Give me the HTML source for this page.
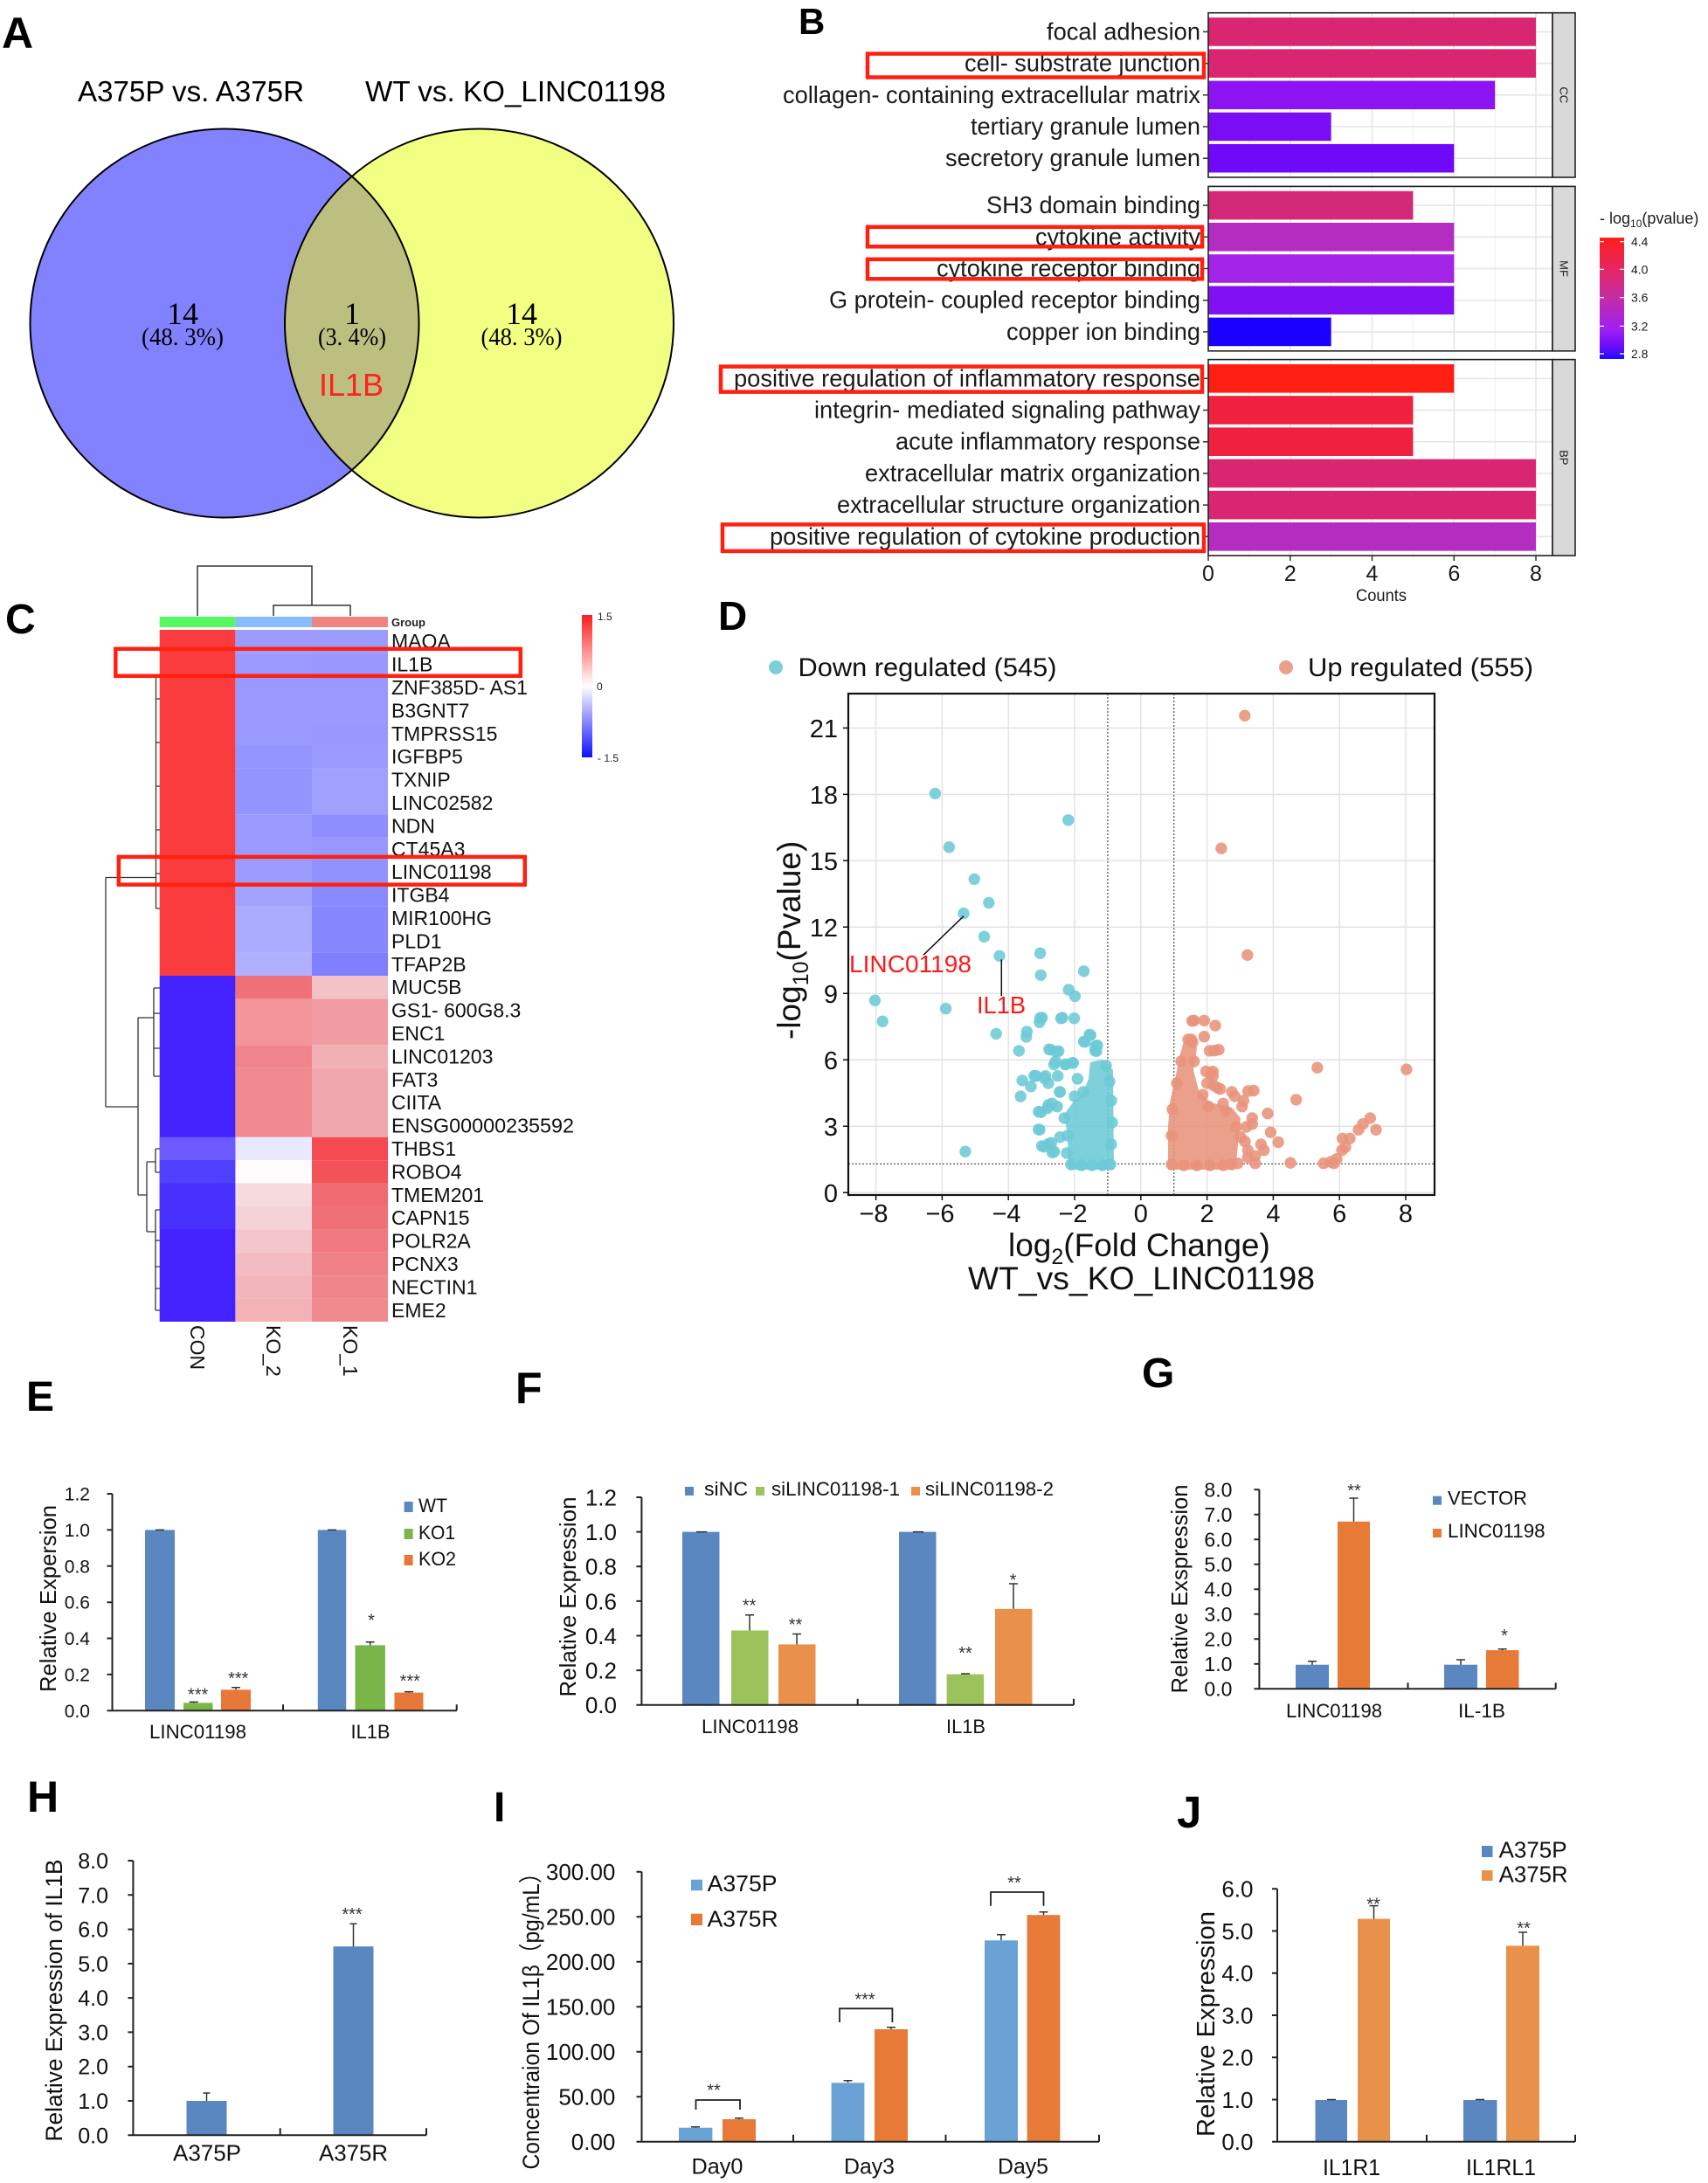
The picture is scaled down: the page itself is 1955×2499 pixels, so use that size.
<!DOCTYPE html>
<html><head><meta charset="utf-8"><style>
html,body{margin:0;padding:0;background:#fff}
svg{display:block}
text{font-family:"Liberation Sans",Arial,sans-serif}
.ser{font-family:"Liberation Serif","Times New Roman",serif}
.lab{font-weight:bold;fill:#000}
</style></head><body>
<svg xmlns="http://www.w3.org/2000/svg" width="1955" height="2499" viewBox="0 0 1955 2499">
<defs>
<clipPath id="lc"><circle cx="257" cy="370" r="222.5"/></clipPath>
<linearGradient id="gb" x1="0" y1="0" x2="0" y2="1">
<stop offset="0" stop-color="#FF1E18"/><stop offset="0.25" stop-color="#E52660"/><stop offset="0.5" stop-color="#C42CA8"/><stop offset="0.75" stop-color="#A020F0"/><stop offset="0.9" stop-color="#6A0CF8"/><stop offset="1" stop-color="#1E0AFF"/>
</linearGradient>
<linearGradient id="gc" x1="0" y1="0" x2="0" y2="1">
<stop offset="0" stop-color="#FF1E1E"/><stop offset="0.5" stop-color="#FFFFFF"/><stop offset="1" stop-color="#1010FF"/>
</linearGradient>
</defs>
<rect width="1955" height="2499" fill="#fff"/>

<!-- ============ A ============ -->
<text class="lab" x="2" y="55" font-size="50">A</text>
<text x="89" y="116" font-size="33" textLength="259" lengthAdjust="spacingAndGlyphs">A375P vs. A375R</text>
<text x="418" y="116" font-size="33" textLength="344" lengthAdjust="spacingAndGlyphs">WT vs. KO_LINC01198</text>
<circle cx="257" cy="370" r="222.5" fill="#8282FF"/>
<circle cx="548.5" cy="370" r="222.5" fill="#F2FF82"/>
<circle cx="548.5" cy="370" r="222.5" fill="#BDBF80" clip-path="url(#lc)"/>
<circle cx="257" cy="370" r="222.5" fill="none" stroke="#000" stroke-width="2"/>
<circle cx="548.5" cy="370" r="222.5" fill="none" stroke="#000" stroke-width="2"/>
<text class="ser" x="209" y="371" font-size="36" text-anchor="middle">14</text>
<text class="ser" x="209" y="395" font-size="28" text-anchor="middle" textLength="94" lengthAdjust="spacingAndGlyphs">(48. 3%)</text>
<text class="ser" x="403" y="371" font-size="36" text-anchor="middle">1</text>
<text class="ser" x="403" y="395" font-size="28" text-anchor="middle" textLength="78" lengthAdjust="spacingAndGlyphs">(3. 4%)</text>
<text class="ser" x="597" y="371" font-size="36" text-anchor="middle">14</text>
<text class="ser" x="597" y="395" font-size="28" text-anchor="middle" textLength="93" lengthAdjust="spacingAndGlyphs">(48. 3%)</text>
<text x="402" y="453" font-size="36" text-anchor="middle" fill="#FF2020" textLength="74" lengthAdjust="spacingAndGlyphs">IL1B</text>

<!-- ============ B ============ -->
<text class="lab" x="914" y="39" font-size="42">B</text>
<!-- panels -->
<g>
<rect x="1383" y="14.7" width="394" height="188.3" fill="#fff"/>
<rect x="1383" y="213.4" width="394" height="188.4" fill="#fff"/>
<rect x="1383" y="411.6" width="394" height="224.4" fill="#fff"/>
<g stroke="#EBEBEB" stroke-width="0.9">
<path d="M1429.9 14.7V203M1523.6 14.7V203M1617.4 14.7V203M1711.2 14.7V203M1429.9 213.4V401.8M1523.6 213.4V401.8M1617.4 213.4V401.8M1711.2 213.4V401.8M1429.9 411.6V636M1523.6 411.6V636M1617.4 411.6V636M1711.2 411.6V636"/>
</g>
<g stroke="#E6E6E6" stroke-width="1.6">
<path d="M1476.8 14.7V203M1570.5 14.7V203M1664.3 14.7V203M1758 14.7V203M1476.8 213.4V401.8M1570.5 213.4V401.8M1664.3 213.4V401.8M1758 213.4V401.8M1476.8 411.6V636M1570.5 411.6V636M1664.3 411.6V636M1758 411.6V636"/>
<path d="M1383 36.4H1777M1383 72.6H1777M1383 108.8H1777M1383 145H1777M1383 181.2H1777M1383 235.1H1777M1383 271.3H1777M1383 307.5H1777M1383 343.7H1777M1383 379.9H1777M1383 433.3H1777M1383 469.5H1777M1383 505.7H1777M1383 541.9H1777M1383 578.1H1777M1383 614.3H1777"/>
</g>
<!-- bars -->
<rect x="1383" y="20.1" width="375" height="32.6" fill="#DA2670"/>
<rect x="1383" y="56.3" width="375" height="32.6" fill="#DA2670"/>
<rect x="1383" y="92.5" width="328.2" height="32.6" fill="#8C14F2"/>
<rect x="1383" y="128.7" width="140.6" height="32.6" fill="#7A0CF6"/>
<rect x="1383" y="164.9" width="281.3" height="32.6" fill="#7008FA"/>
<rect x="1383" y="218.8" width="234.4" height="32.6" fill="#D42878"/>
<rect x="1383" y="255" width="281.3" height="32.6" fill="#B52CC0"/>
<rect x="1383" y="291.2" width="281.3" height="32.6" fill="#A324E8"/>
<rect x="1383" y="327.4" width="281.3" height="32.6" fill="#8210F5"/>
<rect x="1383" y="363.6" width="140.6" height="32.6" fill="#1C00FF"/>
<rect x="1383" y="417" width="281.3" height="32.6" fill="#FF1E12"/>
<rect x="1383" y="453.2" width="234.4" height="32.6" fill="#F0213E"/>
<rect x="1383" y="489.4" width="234.4" height="32.6" fill="#F0213E"/>
<rect x="1383" y="525.6" width="375" height="32.6" fill="#DA2670"/>
<rect x="1383" y="561.8" width="375" height="32.6" fill="#DA2670"/>
<rect x="1383" y="598" width="375" height="32.6" fill="#B52CC0"/>
<g fill="none" stroke="#222" stroke-width="1.6">
<rect x="1383" y="14.7" width="394" height="188.3"/>
<rect x="1383" y="213.4" width="394" height="188.4"/>
<rect x="1383" y="411.6" width="394" height="224.4"/>
</g>
<!-- strips -->
<g fill="#D9D9D9" stroke="#222" stroke-width="1.6">
<rect x="1777" y="14.7" width="26" height="188.3"/>
<rect x="1777" y="213.4" width="26" height="188.4"/>
<rect x="1777" y="411.6" width="26" height="224.4"/>
</g>
<g font-size="13" fill="#1A1A1A">
<text transform="translate(1790,108.8) rotate(90)" text-anchor="middle" dominant-baseline="central">CC</text>
<text transform="translate(1790,307.5) rotate(90)" text-anchor="middle" dominant-baseline="central">MF</text>
<text transform="translate(1790,523.8) rotate(90)" text-anchor="middle" dominant-baseline="central">BP</text>
</g>
<!-- y ticks -->
<path stroke="#333" stroke-width="1.5" d="M1377 36.4H1383M1377 72.6H1383M1377 108.8H1383M1377 145H1383M1377 181.2H1383M1377 235.1H1383M1377 271.3H1383M1377 307.5H1383M1377 343.7H1383M1377 379.9H1383M1377 433.3H1383M1377 469.5H1383M1377 505.7H1383M1377 541.9H1383M1377 578.1H1383M1377 614.3H1383"/>
<!-- labels -->
<g font-size="28" fill="#1A1A1A" text-anchor="end">
<text x="1374" y="45.4" textLength="176" lengthAdjust="spacingAndGlyphs">focal adhesion</text>
<text x="1374" y="81.6" textLength="270" lengthAdjust="spacingAndGlyphs">cell- substrate junction</text>
<text x="1374" y="117.8" textLength="478" lengthAdjust="spacingAndGlyphs">collagen- containing extracellular matrix</text>
<text x="1374" y="154" textLength="263" lengthAdjust="spacingAndGlyphs">tertiary granule lumen</text>
<text x="1374" y="190.2" textLength="292" lengthAdjust="spacingAndGlyphs">secretory granule lumen</text>
<text x="1374" y="244.1" textLength="245" lengthAdjust="spacingAndGlyphs">SH3 domain binding</text>
<text x="1374" y="280.3" textLength="189" lengthAdjust="spacingAndGlyphs">cytokine activity</text>
<text x="1374" y="316.5" textLength="302" lengthAdjust="spacingAndGlyphs">cytokine receptor binding</text>
<text x="1374" y="352.7" textLength="425" lengthAdjust="spacingAndGlyphs">G protein- coupled receptor binding</text>
<text x="1374" y="388.9" textLength="222" lengthAdjust="spacingAndGlyphs">copper ion binding</text>
<text x="1374" y="442.3" textLength="534" lengthAdjust="spacingAndGlyphs">positive regulation of inflammatory response</text>
<text x="1374" y="478.5" textLength="442" lengthAdjust="spacingAndGlyphs">integrin- mediated signaling pathway</text>
<text x="1374" y="514.7" textLength="349" lengthAdjust="spacingAndGlyphs">acute inflammatory response</text>
<text x="1374" y="550.9" textLength="384" lengthAdjust="spacingAndGlyphs">extracellular matrix organization</text>
<text x="1374" y="587.1" textLength="416" lengthAdjust="spacingAndGlyphs">extracellular structure organization</text>
<text x="1374" y="623.3" textLength="493" lengthAdjust="spacingAndGlyphs">positive regulation of cytokine production</text>
</g>
<!-- red boxes -->
<g fill="none" stroke="#FF2010" stroke-width="4.5">
<rect x="993" y="61.5" width="385" height="27"/>
<rect x="993" y="259.8" width="383" height="22.5"/>
<rect x="993" y="296.8" width="383" height="22.5"/>
<rect x="825" y="419.6" width="551" height="29"/>
<rect x="827" y="600.4" width="551" height="30.5"/>
</g>
<!-- x axis -->
<path stroke="#333" stroke-width="1.5" d="M1383 636V642M1476.8 636V642M1570.5 636V642M1664.3 636V642M1758 636V642"/>
<g font-size="25" fill="#1A1A1A" text-anchor="middle">
<text x="1383" y="665">0</text><text x="1476.8" y="665">2</text><text x="1570.5" y="665">4</text><text x="1664.3" y="665">6</text><text x="1758" y="665">8</text>
</g>
<text x="1552" y="688" font-size="19" fill="#1A1A1A" textLength="58" lengthAdjust="spacingAndGlyphs">Counts</text>
<!-- colorbar -->
<text x="1831" y="256" font-size="18" fill="#1A1A1A">- log<tspan font-size="12" dy="4">10</tspan><tspan dy="-4">(pvalue)</tspan></text>
<rect x="1831" y="272" width="28" height="139" fill="url(#gb)"/>
<path stroke="#fff" stroke-width="1.2" d="M1831 276.7h5M1854 276.7h5M1831 308.3h5M1854 308.3h5M1831 340.7h5M1854 340.7h5M1831 373.3h5M1854 373.3h5M1831 405h5M1854 405h5"/>
<g font-size="14" fill="#1A1A1A">
<text x="1867" y="281.7">4.4</text><text x="1867" y="313.3">4.0</text><text x="1867" y="345.7">3.6</text><text x="1867" y="378.3">3.2</text><text x="1867" y="410">2.8</text>
</g>

<!-- ============ C ============ -->
<text class="lab" x="6" y="725" font-size="48">C</text>
<!-- column dendrogram -->
<path fill="none" stroke="#333" stroke-width="1.5" d="M226 705V648H357V693M313 705V693H401V705"/>
<!-- group bar -->
<rect x="182.7" y="706" width="86.7" height="12" fill="#55F860"/>
<rect x="269.4" y="706" width="87.6" height="12" fill="#88BBFF"/>
<rect x="357" y="706" width="87" height="12" fill="#F08282"/>
<text x="448" y="717" font-size="13" font-weight="bold" fill="#222">Group</text>
<!-- heatmap -->
<g>
<rect x="182.7" y="721" width="86.7" height="396" fill="#FA3C3E"/>
<rect x="182.7" y="1117" width="86.7" height="396" fill="#4422FF"/>
<rect x="182.7" y="1301.8" width="86.7" height="26.4" fill="#6A5AFF"/>
<rect x="182.7" y="1328.2" width="86.7" height="26.4" fill="#5040FF"/>
<rect x="182.7" y="1354.6" width="86.7" height="52.8" fill="#4830FF"/>
</g>
<g id="k2">
<rect x="269.4" y="721" width="87.6" height="26.4" fill="#9C9CFF"/>
<rect x="269.4" y="747.4" width="87.6" height="26.4" fill="#9A9AFF"/>
<rect x="269.4" y="773.8" width="87.6" height="79.2" fill="#9999FF"/>
<rect x="269.4" y="853" width="87.6" height="26.4" fill="#9595FF"/>
<rect x="269.4" y="879.4" width="87.6" height="52.8" fill="#9494FF"/>
<rect x="269.4" y="932.2" width="87.6" height="52.8" fill="#9A9AFF"/>
<rect x="269.4" y="985" width="87.6" height="26.4" fill="#9C9CFF"/>
<rect x="269.4" y="1011.4" width="87.6" height="26.4" fill="#A2A2FF"/>
<rect x="269.4" y="1037.8" width="87.6" height="52.8" fill="#ACACFF"/>
<rect x="269.4" y="1090.6" width="87.6" height="26.4" fill="#B0B0FF"/>
<rect x="269.4" y="1117" width="87.6" height="26.4" fill="#F0707A"/>
<rect x="269.4" y="1143.4" width="87.6" height="52.8" fill="#F29498"/>
<rect x="269.4" y="1196.2" width="87.6" height="26.4" fill="#F0848C"/>
<rect x="269.4" y="1222.6" width="87.6" height="79.2" fill="#F08A90"/>
<rect x="269.4" y="1301.8" width="87.6" height="26.4" fill="#E8E8FF"/>
<rect x="269.4" y="1328.2" width="87.6" height="26.4" fill="#FFFAFC"/>
<rect x="269.4" y="1354.6" width="87.6" height="26.4" fill="#F6DADE"/>
<rect x="269.4" y="1381" width="87.6" height="26.4" fill="#F4D2D6"/>
<rect x="269.4" y="1407.4" width="87.6" height="26.4" fill="#F2C6CA"/>
<rect x="269.4" y="1433.8" width="87.6" height="26.4" fill="#F2BCC2"/>
<rect x="269.4" y="1460.2" width="87.6" height="26.4" fill="#F2B6BA"/>
<rect x="269.4" y="1486.6" width="87.6" height="26.4" fill="#F2B2B6"/>
</g>
<g id="k1">
<rect x="357" y="721" width="87" height="26.4" fill="#9C9CFF"/>
<rect x="357" y="747.4" width="87" height="26.4" fill="#9898FF"/>
<rect x="357" y="773.8" width="87" height="52.8" fill="#9999FF"/>
<rect x="357" y="826.6" width="87" height="26.4" fill="#9898FF"/>
<rect x="357" y="853" width="87" height="26.4" fill="#9A9AFF"/>
<rect x="357" y="879.4" width="87" height="52.8" fill="#A0A0FF"/>
<rect x="357" y="932.2" width="87" height="26.4" fill="#8E8EFF"/>
<rect x="357" y="958.6" width="87" height="26.4" fill="#9898FF"/>
<rect x="357" y="985" width="87" height="26.4" fill="#9292FF"/>
<rect x="357" y="1011.4" width="87" height="26.4" fill="#8A8AFF"/>
<rect x="357" y="1037.8" width="87" height="52.8" fill="#8686FF"/>
<rect x="357" y="1090.6" width="87" height="26.4" fill="#8080FF"/>
<rect x="357" y="1117" width="87" height="26.4" fill="#F2C2C6"/>
<rect x="357" y="1143.4" width="87" height="52.8" fill="#F09CA2"/>
<rect x="357" y="1196.2" width="87" height="26.4" fill="#F0B0B4"/>
<rect x="357" y="1222.6" width="87" height="79.2" fill="#F0A8AE"/>
<rect x="357" y="1301.8" width="87" height="26.4" fill="#F44A50"/>
<rect x="357" y="1328.2" width="87" height="26.4" fill="#F25258"/>
<rect x="357" y="1354.6" width="87" height="26.4" fill="#F06A72"/>
<rect x="357" y="1381" width="87" height="26.4" fill="#F07078"/>
<rect x="357" y="1407.4" width="87" height="26.4" fill="#F07A80"/>
<rect x="357" y="1433.8" width="87" height="26.4" fill="#F08088"/>
<rect x="357" y="1460.2" width="87" height="26.4" fill="#F0868C"/>
<rect x="357" y="1486.6" width="87" height="26.4" fill="#F08A90"/>
</g>
<!-- row dendrogram -->
<path fill="none" stroke="#333" stroke-width="1.3" d="M121 1004.5V1267M121 1004.5H178.5M178.5 775V1040M178.5 775H183M178.5 800H183M178.5 850H183M178.5 900H183M178.5 950H183M178.5 1000H183M178.5 1040H183M121 1267H158M158 1165V1368M158 1165H176M176 1131V1232M176 1131H183M176 1160H183M176 1200H183M176 1232H183M158 1368H168M168 1330V1410M168 1330H178M178 1315V1342M178 1315H183M178 1342H183M168 1410H178M178 1385V1500M178 1385H183M178 1420H183M178 1450H183M178 1475H183M178 1500H183"/>
<!-- row labels -->
<g font-size="23" fill="#111">
<text x="448" y="742.2">MAOA</text>
<text x="448" y="768.6">IL1B</text>
<text x="448" y="795">ZNF385D- AS1</text>
<text x="448" y="821.4">B3GNT7</text>
<text x="448" y="847.8">TMPRSS15</text>
<text x="448" y="874.2">IGFBP5</text>
<text x="448" y="900.6">TXNIP</text>
<text x="448" y="927">LINC02582</text>
<text x="448" y="953.4">NDN</text>
<text x="448" y="979.8">CT45A3</text>
<text x="448" y="1006.2">LINC01198</text>
<text x="448" y="1032.6">ITGB4</text>
<text x="448" y="1059">MIR100HG</text>
<text x="448" y="1085.4">PLD1</text>
<text x="448" y="1111.8">TFAP2B</text>
<text x="448" y="1138.2">MUC5B</text>
<text x="448" y="1164.6">GS1- 600G8.3</text>
<text x="448" y="1191">ENC1</text>
<text x="448" y="1217.4">LINC01203</text>
<text x="448" y="1243.8">FAT3</text>
<text x="448" y="1270.2">CIITA</text>
<text x="448" y="1296.6" textLength="209" lengthAdjust="spacingAndGlyphs">ENSG00000235592</text>
<text x="448" y="1323">THBS1</text>
<text x="448" y="1349.4">ROBO4</text>
<text x="448" y="1375.8">TMEM201</text>
<text x="448" y="1402.2">CAPN15</text>
<text x="448" y="1428.6">POLR2A</text>
<text x="448" y="1455">PCNX3</text>
<text x="448" y="1481.4">NECTIN1</text>
<text x="448" y="1507.8">EME2</text>
</g>
<g fill="none" stroke="#FF2010" stroke-width="4.5">
<rect x="132.3" y="742.8" width="463.5" height="31"/>
<rect x="135.9" y="980.9" width="464.9" height="31.8"/>
</g>
<g font-size="23" fill="#111">
<text transform="translate(226,1517) rotate(90)" dominant-baseline="central">CON</text>
<text transform="translate(313,1517) rotate(90)" dominant-baseline="central">KO_2</text>
<text transform="translate(401,1517) rotate(90)" dominant-baseline="central">KO_1</text>
</g>
<rect x="666" y="704" width="12" height="163" fill="url(#gc)"/>
<g font-size="12" fill="#222">
<text x="684" y="710">1.5</text><text x="683" y="790">0</text><text x="684" y="872">- 1.5</text>
</g>

<!-- ============ D ============ -->
<text class="lab" x="822" y="721" font-size="46">D</text>
<circle cx="888" cy="764" r="8" fill="#6CCAD6" fill-opacity="0.9"/>
<text x="913.5" y="774" font-size="30" fill="#111" textLength="296" lengthAdjust="spacingAndGlyphs">Down regulated (545)</text>
<circle cx="1472" cy="764" r="8" fill="#E8967E" fill-opacity="0.9"/>
<text x="1497" y="774" font-size="30" fill="#111" textLength="258" lengthAdjust="spacingAndGlyphs">Up regulated (555)</text>
<rect x="971" y="794" width="671" height="574" fill="#fff"/>
<g stroke="#E3E3E3" stroke-width="1.5">
<path d="M1002.6 794V1368M1078.4 794V1368M1154.2 794V1368M1230 794V1368M1305.8 794V1368M1381.6 794V1368M1457.4 794V1368M1533.2 794V1368M1609 794V1368"/>
<path d="M971 1365.3H1642M971 1289.3H1642M971 1213.3H1642M971 1137.3H1642M971 1061.3H1642M971 985.3H1642M971 909.4H1642M971 833.4H1642"/>
</g>
<g stroke="#555" stroke-width="1.3" stroke-dasharray="2,2">
<path d="M1267.9 794V1368M1343.7 794V1368M971 1332.4H1642"/>
</g>
<!-- down points -->
<g fill="#6CCAD6" fill-opacity="0.88">
<path d="M1223 1339L1222 1300L1218 1276L1228 1262L1240 1250L1246 1235L1248 1216L1262 1213L1274 1225L1275 1339Z"/>
<circle cx="1070.4" cy="908.4" r="6.7"/><circle cx="1222.8" cy="938.8" r="6.7"/><circle cx="1086.4" cy="969.7" r="6.7"/><circle cx="1115.2" cy="1006.4" r="6.7"/><circle cx="1131.8" cy="1033.5" r="6.7"/><circle cx="1103" cy="1045.6" r="6.7"/><circle cx="1126.5" cy="1072.2" r="6.7"/><circle cx="1144" cy="1094.3" r="6.7"/><circle cx="1190.6" cy="1091.2" r="6.7"/><circle cx="1240.6" cy="1111.8" r="6.7"/><circle cx="1191.3" cy="1116.3" r="6.7"/><circle cx="1223.2" cy="1133" r="6.7"/><circle cx="1230.4" cy="1140.4" r="6.7"/><circle cx="1001.5" cy="1145.2" r="6.7"/><circle cx="1082.6" cy="1154.6" r="6.7"/><circle cx="1010.2" cy="1169.2" r="6.7"/><circle cx="1190.6" cy="1165.2" r="6.7"/><circle cx="1189.8" cy="1170.3" r="6.7"/><circle cx="1214.5" cy="1165.7" r="6.7"/><circle cx="1229.6" cy="1165.7" r="6.7"/><circle cx="1140.2" cy="1183.4" r="6.7"/><circle cx="1175.4" cy="1180.9" r="6.7"/><circle cx="1174.7" cy="1187" r="6.7"/><circle cx="1247.1" cy="1184.4" r="6.7"/><circle cx="1240.6" cy="1192.3" r="6.7"/><circle cx="1253.9" cy="1197.6" r="6.7"/><circle cx="1166.3" cy="1202.9" r="6.7"/><circle cx="1200.8" cy="1201.2" r="6.7"/><circle cx="1209.2" cy="1204" r="6.7"/><circle cx="1253.5" cy="1202.9" r="6.7"/><circle cx="1104.9" cy="1318.2" r="6.7"/><circle cx="1168.2" cy="1255.1" r="6.7"/><circle cx="1170.1" cy="1236.9" r="6.7"/><circle cx="1183.8" cy="1231.6" r="6.7"/><circle cx="1180" cy="1243.7" r="6.7"/><circle cx="1195.1" cy="1234.3" r="6.7"/><circle cx="1188.7" cy="1272.6" r="6.7"/><circle cx="1188.7" cy="1292.9" r="6.7"/><circle cx="1192.5" cy="1311.9" r="6.7"/><circle cx="1200.1" cy="1309.3" r="6.7"/><circle cx="1204.6" cy="1319.2" r="6.7"/><circle cx="1206.5" cy="1218.6" r="6.7"/><circle cx="1219.4" cy="1218.6" r="6.7"/><circle cx="1227" cy="1216.9" r="6.7"/><circle cx="1204.2" cy="1263.2" r="6.7"/><circle cx="1213" cy="1250" r="6.7"/><circle cx="1198.9" cy="1268.8" r="6.7"/>
<circle cx="1192.7" cy="1165" r="6.7"/><circle cx="1216" cy="1165" r="6.7"/><circle cx="1248.3" cy="1185" r="6.7"/><circle cx="1241.7" cy="1192.7" r="6.7"/><circle cx="1256" cy="1196.7" r="6.7"/><circle cx="1255" cy="1203.3" r="6.7"/><circle cx="1202.7" cy="1201.7" r="6.7"/><circle cx="1211.7" cy="1203.3" r="6.7"/><circle cx="1208.3" cy="1215" r="6.7"/><circle cx="1228.3" cy="1216.7" r="6.7"/><circle cx="1220" cy="1218.3" r="6.7"/><circle cx="1186" cy="1231.7" r="6.7"/><circle cx="1196.7" cy="1231.7" r="6.7"/><circle cx="1210.7" cy="1231.7" r="6.7"/><circle cx="1233.3" cy="1235" r="6.7"/><circle cx="1200" cy="1240" r="6.7"/><circle cx="1213.3" cy="1250" r="6.7"/><circle cx="1240" cy="1250" r="6.7"/><circle cx="1230" cy="1255" r="6.7"/><circle cx="1200" cy="1265" r="6.7"/><circle cx="1191.7" cy="1273.3" r="6.7"/><circle cx="1210" cy="1266.7" r="6.7"/><circle cx="1190" cy="1293.3" r="6.7"/><circle cx="1195" cy="1312.7" r="6.7"/><circle cx="1203.3" cy="1308.3" r="6.7"/><circle cx="1206.7" cy="1318.3" r="6.7"/><circle cx="1213.3" cy="1301.7" r="6.7"/><circle cx="1218.3" cy="1280" r="6.7"/>
<circle cx="1226" cy="1333" r="6.7"/><circle cx="1238" cy="1334" r="6.7"/><circle cx="1250" cy="1334" r="6.7"/><circle cx="1262" cy="1334" r="6.7"/><circle cx="1271" cy="1333" r="6.7"/><circle cx="1272" cy="1310" r="6.7"/><circle cx="1273" cy="1285" r="6.7"/><circle cx="1272" cy="1260" r="6.7"/><circle cx="1270" cy="1238" r="6.7"/><circle cx="1266" cy="1220" r="6.7"/><circle cx="1222" cy="1300" r="6.7"/><circle cx="1221" cy="1320" r="6.7"/>
</g>
<!-- up points -->
<g fill="#E8937B" fill-opacity="0.88">
<path d="M1337 1339L1337 1290L1339 1262L1345 1235L1350 1210L1355 1192L1365 1188L1370 1200L1366 1225L1372 1248L1385 1262L1410 1268L1420 1280L1418 1300L1415 1330L1410 1339Z"/>
<circle cx="1424.8" cy="819.2" r="6.7"/><circle cx="1397.9" cy="971.2" r="6.7"/><circle cx="1427.8" cy="1093.3" r="6.7"/><circle cx="1507.8" cy="1222.2" r="6.7"/><circle cx="1609.8" cy="1224.2" r="6.7"/><circle cx="1483.6" cy="1258.9" r="6.7"/><circle cx="1451" cy="1274.6" r="6.7"/><circle cx="1435" cy="1248.5" r="6.7"/><circle cx="1428.6" cy="1249" r="6.7"/><circle cx="1463.1" cy="1307.5" r="6.7"/><circle cx="1477.1" cy="1331.1" r="6.7"/><circle cx="1454.4" cy="1296.2" r="6.7"/><circle cx="1568.3" cy="1280" r="6.7"/><circle cx="1575" cy="1293.3" r="6.7"/><circle cx="1560" cy="1286.7" r="6.7"/><circle cx="1555" cy="1293.3" r="6.7"/><circle cx="1545" cy="1303.3" r="6.7"/><circle cx="1536.7" cy="1303.3" r="6.7"/><circle cx="1540" cy="1313.3" r="6.7"/><circle cx="1536" cy="1316.7" r="6.7"/><circle cx="1530" cy="1326.7" r="6.7"/><circle cx="1523.3" cy="1330" r="6.7"/><circle cx="1515" cy="1331.7" r="6.7"/><circle cx="1526.7" cy="1331.7" r="6.7"/><circle cx="1410" cy="1250" r="6.7"/><circle cx="1413.3" cy="1255" r="6.7"/><circle cx="1423.3" cy="1260" r="6.7"/><circle cx="1421.7" cy="1266.7" r="6.7"/><circle cx="1433.3" cy="1280" r="6.7"/><circle cx="1433.3" cy="1286.7" r="6.7"/><circle cx="1426.7" cy="1290" r="6.7"/><circle cx="1420" cy="1301.7" r="6.7"/><circle cx="1425" cy="1306.7" r="6.7"/><circle cx="1443.3" cy="1310" r="6.7"/><circle cx="1446.7" cy="1316.7" r="6.7"/><circle cx="1436.7" cy="1323.3" r="6.7"/><circle cx="1428.3" cy="1325" r="6.7"/><circle cx="1436.7" cy="1331.7" r="6.7"/><circle cx="1416.7" cy="1331.7" r="6.7"/><circle cx="1428.3" cy="1316.7" r="6.7"/><circle cx="1366.7" cy="1168.3" r="6.7"/><circle cx="1378.3" cy="1168.3" r="6.7"/><circle cx="1391" cy="1174" r="6.7"/><circle cx="1378.3" cy="1186.7" r="6.7"/><circle cx="1390" cy="1202.7" r="6.7"/><circle cx="1395" cy="1201.7" r="6.7"/><circle cx="1388.3" cy="1226.7" r="6.7"/><circle cx="1388.3" cy="1231.7" r="6.7"/><circle cx="1381.7" cy="1240" r="6.7"/><circle cx="1393.3" cy="1245" r="6.7"/><circle cx="1396.7" cy="1246.7" r="6.7"/><circle cx="1376.7" cy="1253.3" r="6.7"/><circle cx="1400" cy="1263.3" r="6.7"/><circle cx="1383.3" cy="1266.7" r="6.7"/><circle cx="1365" cy="1193.3" r="6.7"/><circle cx="1360" cy="1190" r="6.7"/><circle cx="1366.7" cy="1215" r="6.7"/><circle cx="1364.5" cy="1168.7" r="6.7"/><circle cx="1363.4" cy="1189.8" r="6.7"/><circle cx="1384.6" cy="1202.9" r="6.7"/><circle cx="1380.5" cy="1226.5" r="6.7"/><circle cx="1385.8" cy="1229" r="6.7"/><circle cx="1388.8" cy="1242.2" r="6.7"/>
<circle cx="1341" cy="1333" r="6.7"/><circle cx="1355" cy="1334" r="6.7"/><circle cx="1370" cy="1334" r="6.7"/><circle cx="1385" cy="1334" r="6.7"/><circle cx="1400" cy="1334" r="6.7"/><circle cx="1410" cy="1333" r="6.7"/><circle cx="1341" cy="1300" r="6.7"/><circle cx="1342" cy="1270" r="6.7"/><circle cx="1347" cy="1240" r="6.7"/><circle cx="1352" cy="1215" r="6.7"/><circle cx="1415" cy="1290" r="6.7"/><circle cx="1403" cy="1272" r="6.7"/>
</g>
<rect x="971" y="794" width="671" height="574" fill="none" stroke="#111" stroke-width="2.2"/>
<path stroke="#111" stroke-width="1.5" d="M965 1365.3H971M965 1289.3H971M965 1213.3H971M965 1137.3H971M965 1061.3H971M965 985.3H971M965 909.4H971M965 833.4H971M1002.6 1368V1374M1078.4 1368V1374M1154.2 1368V1374M1230 1368V1374M1305.8 1368V1374M1381.6 1368V1374M1457.4 1368V1374M1533.2 1368V1374M1609 1368V1374"/>
<g font-size="29" fill="#111" text-anchor="end">
<text x="959" y="1375.8">0</text><text x="959" y="1299.8">3</text><text x="959" y="1223.8">6</text><text x="959" y="1147.8">9</text><text x="959" y="1071.8">12</text><text x="959" y="995.8">15</text><text x="959" y="919.9">18</text><text x="959" y="843.9">21</text>
</g>
<g font-size="29" fill="#111" text-anchor="middle">
<text x="1000" y="1399">−8</text><text x="1076" y="1399">−6</text><text x="1152" y="1399">−4</text><text x="1228" y="1399">−2</text><text x="1305.8" y="1399">0</text><text x="1381.6" y="1399">2</text><text x="1457.4" y="1399">4</text><text x="1533.2" y="1399">6</text><text x="1609" y="1399">8</text>
</g>
<path stroke="#111" stroke-width="1.5" d="M1057 1093.2L1103 1048.7M1146.3 1140.2V1098.4"/>
<text x="972" y="1113" font-size="28" fill="#FF1A1A" textLength="140" lengthAdjust="spacingAndGlyphs">LINC01198</text>
<text x="1118" y="1160" font-size="28" fill="#FF1A1A" textLength="56" lengthAdjust="spacingAndGlyphs">IL1B</text>
<text x="1154" y="1438" font-size="37" fill="#111">log<tspan font-size="25" dy="9">2</tspan><tspan dy="-9">(Fold Change)</tspan></text>
<text x="1108" y="1476" font-size="37" fill="#111" textLength="397" lengthAdjust="spacingAndGlyphs">WT_vs_KO_LINC01198</text>
<text transform="translate(916,1190) rotate(-90)" font-size="37" fill="#111">-log<tspan font-size="25" dy="9">10</tspan><tspan dy="-9">(Pvalue)</tspan></text>

<!-- ============ E ============ -->
<text class="lab" x="30" y="1615" font-size="48">E</text>
<g font-size="21" fill="#111" text-anchor="end">
<text x="103" y="1965.8">0.0</text><text x="103" y="1924.4">0.2</text><text x="103" y="1883">0.4</text><text x="103" y="1841.7">0.6</text><text x="103" y="1800.3">0.8</text><text x="103" y="1758.9">1.0</text><text x="103" y="1717.5">1.2</text>
</g>
<text transform="translate(55,1830) rotate(-90)" font-size="26" fill="#111" text-anchor="middle" dominant-baseline="central" textLength="214" lengthAdjust="spacingAndGlyphs">Relative Expersion</text>
<rect x="166" y="1751.4" width="34" height="206.9" fill="#5B87C1"/>
<rect x="210" y="1949.4" width="33.5" height="8.9" fill="#79B547"/>
<rect x="253" y="1934.3" width="34" height="24" fill="#E8783A"/>
<rect x="363.8" y="1751.4" width="32.4" height="206.9" fill="#5B87C1"/>
<rect x="406.5" y="1883.4" width="34.4" height="74.9" fill="#79B547"/>
<rect x="451.5" y="1937.6" width="33" height="20.7" fill="#E8783A"/>
<path fill="none" stroke="#333" stroke-width="1.5" d="M178 1751.4h10M221.7 1949.4V1948.4M216.7 1948.4h10M270 1934.3V1931.8M265 1931.8h10M375 1751.4h10M423.7 1883.4V1879.7M418.7 1879.7h10M468 1937.6V1936.6M463 1936.6h10"/>
<path fill="none" stroke="#222" stroke-width="2" d="M128.5 1710V1958.3H522.7M122.5 1958.3h6M122.5 1916.9h6M122.5 1875.5h6M122.5 1834.2h6M122.5 1792.8h6M122.5 1751.4h6M122.5 1710h6M324 1958.3v-7M522.7 1958.3v-7"/>
<g font-size="20" fill="#333" text-anchor="middle">
<text x="226.6" y="1946.5">***</text><text x="272.8" y="1928.2">***</text><text x="425" y="1861.5">*</text><text x="469.3" y="1930.8">***</text>
</g>
<rect x="462.6" y="1719" width="10" height="12" fill="#5B87C1"/>
<rect x="462.6" y="1750" width="10" height="12" fill="#79B547"/>
<rect x="462.6" y="1780" width="10" height="12" fill="#E8783A"/>
<g font-size="22" fill="#111">
<text x="479" y="1731" textLength="33" lengthAdjust="spacingAndGlyphs">WT</text><text x="479" y="1762" textLength="42" lengthAdjust="spacingAndGlyphs">KO1</text><text x="479" y="1792" textLength="43" lengthAdjust="spacingAndGlyphs">KO2</text>
</g>
<g font-size="22" fill="#111" text-anchor="middle">
<text x="226.5" y="1990" textLength="111" lengthAdjust="spacingAndGlyphs">LINC01198</text><text x="424" y="1990" textLength="45" lengthAdjust="spacingAndGlyphs">IL1B</text>
</g>

<!-- ============ F ============ -->
<text class="lab" x="590" y="1606" font-size="50">F</text>
<g font-size="26" fill="#111" text-anchor="end">
<text x="706" y="1961.2">0.0</text><text x="706" y="1921.6">0.2</text><text x="706" y="1882">0.4</text><text x="706" y="1842.4">0.6</text><text x="706" y="1802.7">0.8</text><text x="706" y="1763.1">1.0</text><text x="706" y="1723.5">1.2</text>
</g>
<text transform="translate(650,1828) rotate(-90)" font-size="26" fill="#111" text-anchor="middle" dominant-baseline="central" textLength="229" lengthAdjust="spacingAndGlyphs">Relative Expression</text>
<rect x="781" y="1753.6" width="42.5" height="198.1" fill="#5B87C1"/>
<rect x="837" y="1866.5" width="42.5" height="85.2" fill="#9BC25B"/>
<rect x="891" y="1882.4" width="42.5" height="69.3" fill="#E9914A"/>
<rect x="1029" y="1753.6" width="42.5" height="198.1" fill="#5B87C1"/>
<rect x="1083.6" y="1916.6" width="42.5" height="35.1" fill="#9BC25B"/>
<rect x="1139" y="1841.8" width="42.5" height="110" fill="#E9914A"/>
<path fill="none" stroke="#333" stroke-width="1.5" d="M797 1753.6h12M858 1866.5V1848.7M853 1848.7h10M912 1882.4V1870.5M907 1870.5h10M1045 1753.6h12M1105 1916.6V1916M1100 1916h10M1160 1841.8V1813M1155 1813h10"/>
<path fill="none" stroke="#222" stroke-width="2" d="M734.4 1714V1951.7H1229M728.4 1951.7h6M728.4 1912.1h6M728.4 1872.5h6M728.4 1832.9h6M728.4 1793.2h6M728.4 1753.6h6M728.4 1714h6M981.7 1951.7v-7M1229 1951.7v-7"/>
<g font-size="20" fill="#333" text-anchor="middle">
<text x="857.6" y="1844.5">**</text><text x="910.5" y="1866.5">**</text><text x="1105" y="1899.2">**</text><text x="1159.5" y="1815.5">*</text>
</g>
<rect x="784" y="1702" width="10" height="10" fill="#5B87C1"/>
<rect x="865" y="1702" width="10" height="10" fill="#9BC25B"/>
<rect x="1043" y="1702" width="10" height="10" fill="#E9914A"/>
<g font-size="22" fill="#111">
<text x="806" y="1712" textLength="50" lengthAdjust="spacingAndGlyphs">siNC</text>
<text x="883" y="1712" textLength="147" lengthAdjust="spacingAndGlyphs">siLINC01198-1</text>
<text x="1059" y="1712" textLength="147" lengthAdjust="spacingAndGlyphs">siLINC01198-2</text>
</g>
<g font-size="22" fill="#111" text-anchor="middle">
<text x="858.5" y="1984" textLength="111" lengthAdjust="spacingAndGlyphs">LINC01198</text><text x="1105.5" y="1984" textLength="45" lengthAdjust="spacingAndGlyphs">IL1B</text>
</g>

<!-- ============ G ============ -->
<text class="lab" x="1307" y="1588" font-size="48">G</text>
<g font-size="23" fill="#111" text-anchor="end">
<text x="1410.4" y="1941.3">0.0</text><text x="1410.4" y="1912.8">1.0</text><text x="1410.4" y="1884.3">2.0</text><text x="1410.4" y="1855.8">3.0</text><text x="1410.4" y="1827.3">4.0</text><text x="1410.4" y="1798.8">5.0</text><text x="1410.4" y="1770.3">6.0</text><text x="1410.4" y="1741.8">7.0</text><text x="1410.4" y="1713.3">8.0</text>
</g>
<text transform="translate(1350,1819) rotate(-90)" font-size="26" fill="#111" text-anchor="middle" dominant-baseline="central" textLength="239" lengthAdjust="spacingAndGlyphs">Relative Exspression</text>
<rect x="1483" y="1905.7" width="38" height="27.6" fill="#5B87C1"/>
<rect x="1531" y="1741.8" width="37" height="191.5" fill="#E67A36"/>
<rect x="1653" y="1905.7" width="38" height="27.6" fill="#5B87C1"/>
<rect x="1701" y="1889.1" width="37.5" height="44.2" fill="#E67A36"/>
<path fill="none" stroke="#333" stroke-width="1.5" d="M1502 1905.7V1901.7M1497 1901.7h10M1549.5 1741.8V1715M1544.5 1715h10M1672 1905.7V1900M1667 1900h10M1719.7 1889.1V1887.7M1714.7 1887.7h10"/>
<path fill="none" stroke="#222" stroke-width="2" d="M1441.4 1705.3V1933.3H1780.7M1435.4 1933.3h6M1435.4 1904.8h6M1435.4 1876.3h6M1435.4 1847.8h6M1435.4 1819.3h6M1435.4 1790.8h6M1435.4 1762.3h6M1435.4 1733.8h6M1435.4 1705.3h6M1611.5 1933.3v-7M1780.7 1933.3v-7"/>
<g font-size="20" fill="#333" text-anchor="middle">
<text x="1550" y="1713.2">**</text><text x="1722" y="1879.2">*</text>
</g>
<rect x="1640" y="1712.7" width="10" height="10" fill="#5B87C1"/>
<rect x="1640" y="1750" width="10" height="10" fill="#E67A36"/>
<g font-size="22" fill="#111">
<text x="1657" y="1722.7" textLength="91" lengthAdjust="spacingAndGlyphs">VECTOR</text>
<text x="1657" y="1760" textLength="111.6" lengthAdjust="spacingAndGlyphs">LINC01198</text>
</g>
<g font-size="22" fill="#111" text-anchor="middle">
<text x="1527" y="1966" textLength="110" lengthAdjust="spacingAndGlyphs">LINC01198</text><text x="1696" y="1966" textLength="54" lengthAdjust="spacingAndGlyphs">IL-1B</text>
</g>

<!-- ============ H ============ -->
<text class="lab" x="31" y="2074" font-size="50">H</text>
<g font-size="25" fill="#111" text-anchor="end">
<text x="124" y="2453.3">0.0</text><text x="124" y="2414">1.0</text><text x="124" y="2374.7">2.0</text><text x="124" y="2335.4">3.0</text><text x="124" y="2296.1">4.0</text><text x="124" y="2256.9">5.0</text><text x="124" y="2217.6">6.0</text><text x="124" y="2178.3">7.0</text><text x="124" y="2139">8.0</text>
</g>
<text transform="translate(62,2290) rotate(-90)" font-size="27" fill="#111" text-anchor="middle" dominant-baseline="central" textLength="323" lengthAdjust="spacingAndGlyphs">Relative Expression of IL1B</text>
<rect x="213.5" y="2405" width="46" height="39.3" fill="#5B87C1"/>
<rect x="381.5" y="2228.2" width="46" height="216.1" fill="#5B87C1"/>
<path fill="none" stroke="#333" stroke-width="1.5" d="M236.5 2405V2396M232.5 2396h8M404.5 2228.2V2202.3M400.5 2202.3h8"/>
<path fill="none" stroke="#222" stroke-width="2" d="M152.4 2130V2444.3H488M146.4 2444.3h6M146.4 2405h6M146.4 2365.7h6M146.4 2326.4h6M146.4 2287.1h6M146.4 2247.9h6M146.4 2208.6h6M146.4 2169.3h6M146.4 2130h6M320.7 2444.3v-8M488 2444.3v-8"/>
<text x="403" y="2198.2" font-size="20" fill="#333" text-anchor="middle">***</text>
<g font-size="26" fill="#111" text-anchor="middle">
<text x="237" y="2473.3" textLength="78" lengthAdjust="spacingAndGlyphs">A375P</text><text x="404.5" y="2473.3" textLength="79" lengthAdjust="spacingAndGlyphs">A375R</text>
</g>

<!-- ============ I ============ -->
<text class="lab" x="565" y="2085" font-size="48">I</text>
<g font-size="26" fill="#111" text-anchor="end">
<text x="704.4" y="2461">0.00</text><text x="704.4" y="2409.5">50.00</text><text x="704.4" y="2358">100.00</text><text x="704.4" y="2306.5">150.00</text><text x="704.4" y="2255">200.00</text><text x="704.4" y="2203.5">250.00</text><text x="704.4" y="2152">300.00</text>
</g>
<text transform="translate(608,2307.5) rotate(-90)" font-size="27" fill="#111" text-anchor="middle" dominant-baseline="central" textLength="352" lengthAdjust="spacingAndGlyphs" style="font-family:'Liberation Sans','Noto Sans CJK SC',sans-serif">Concentraion Of IL1β（pg/mL）</text>
<rect x="777" y="2435.7" width="38.4" height="16" fill="#6AA2D6"/>
<rect x="827" y="2426" width="38" height="25.7" fill="#E67A36"/>
<rect x="951.6" y="2384.3" width="37.8" height="67.4" fill="#6AA2D6"/>
<rect x="1001" y="2323" width="38" height="128.7" fill="#E67A36"/>
<rect x="1127" y="2221.3" width="38" height="230.4" fill="#6AA2D6"/>
<rect x="1175.6" y="2192.2" width="37.8" height="259.5" fill="#E67A36"/>
<path fill="none" stroke="#333" stroke-width="1.5" d="M796 2435.7V2434.7M791 2434.7h10M846 2426V2424.7M841 2424.7h10M970.5 2384.3V2381.7M965.5 2381.7h10M1020 2323V2320.7M1015 2320.7h10M1146 2221.3V2214.7M1141 2214.7h10M1194.5 2192.2V2188.7M1189.5 2188.7h10"/>
<path fill="none" stroke="#222" stroke-width="1.8" d="M796.5 2415V2404H847V2415M961 2315V2299.3H1021.4V2315M1134 2181.7V2166H1194.5V2181.7"/>
<path fill="none" stroke="#222" stroke-width="2" d="M734.5 2142.7V2451.7H1258M728.5 2451.7h6M728.5 2400.2h6M728.5 2348.7h6M728.5 2297.2h6M728.5 2245.7h6M728.5 2194.2h6M728.5 2142.7h6M908 2451.7v-8M1082.5 2451.7v-8M1258 2451.7v-8"/>
<g font-size="20" fill="#333" text-anchor="middle">
<text x="817" y="2399.5">**</text><text x="990" y="2295.5">***</text><text x="1161" y="2162.2">**</text>
</g>
<rect x="791" y="2151.7" width="13" height="12.5" fill="#6AA2D6"/>
<rect x="791" y="2190.7" width="13" height="13.3" fill="#E67A36"/>
<g font-size="26" fill="#111">
<text x="809.6" y="2165" textLength="80" lengthAdjust="spacingAndGlyphs">A375P</text>
<text x="809.6" y="2205.7" textLength="81" lengthAdjust="spacingAndGlyphs">A375R</text>
</g>
<g font-size="25" fill="#111" text-anchor="middle">
<text x="821" y="2488.3" textLength="59" lengthAdjust="spacingAndGlyphs">Day0</text><text x="995" y="2488.3" textLength="58" lengthAdjust="spacingAndGlyphs">Day3</text><text x="1171" y="2488.3" textLength="58" lengthAdjust="spacingAndGlyphs">Day5</text>
</g>

<!-- ============ J ============ -->
<text class="lab" x="1347" y="2092" font-size="51">J</text>
<g font-size="26" fill="#111" text-anchor="end">
<text x="1434.5" y="2461">0.0</text><text x="1434.5" y="2412.8">1.0</text><text x="1434.5" y="2364.5">2.0</text><text x="1434.5" y="2316.3">3.0</text><text x="1434.5" y="2268.1">4.0</text><text x="1434.5" y="2219.9">5.0</text><text x="1434.5" y="2171.6">6.0</text>
</g>
<text transform="translate(1381,2317) rotate(-90)" font-size="29" fill="#111" text-anchor="middle" dominant-baseline="central" textLength="258" lengthAdjust="spacingAndGlyphs">Relative Expression</text>
<rect x="1505.5" y="2404" width="36.5" height="47.7" fill="#5B87C1"/>
<rect x="1554" y="2196.6" width="37" height="255.1" fill="#E8914A"/>
<rect x="1675" y="2404" width="38.5" height="47.7" fill="#5B87C1"/>
<rect x="1724" y="2227.4" width="38" height="224.3" fill="#E8914A"/>
<path fill="none" stroke="#333" stroke-width="1.5" d="M1519 2403.5h10M1572.5 2196.6V2181.6M1567.5 2181.6h10M1689 2403.5h10M1743 2227.4V2212M1738 2212h10"/>
<path fill="none" stroke="#222" stroke-width="2" d="M1462 2162.3V2451.7H1803M1456 2451.7h6M1456 2403.5h6M1456 2355.2h6M1456 2307h6M1456 2258.8h6M1456 2210.5h6M1456 2162.3h6M1633 2451.7v-8M1803 2451.7v-8"/>
<g font-size="20" fill="#333" text-anchor="middle">
<text x="1572" y="2186.5">**</text><text x="1744" y="2214.2">**</text>
</g>
<rect x="1696" y="2113" width="12.5" height="13" fill="#5B87C1"/>
<rect x="1696" y="2141" width="12.5" height="12" fill="#E8914A"/>
<g font-size="26" fill="#111">
<text x="1715.6" y="2126.7" textLength="78" lengthAdjust="spacingAndGlyphs">A375P</text>
<text x="1715.6" y="2154.3" textLength="79" lengthAdjust="spacingAndGlyphs">A375R</text>
</g>
<g font-size="26" fill="#111" text-anchor="middle">
<text x="1547" y="2490" textLength="66" lengthAdjust="spacingAndGlyphs">IL1R1</text><text x="1718" y="2490" textLength="80" lengthAdjust="spacingAndGlyphs">IL1RL1</text>
</g>
</svg>
</body></html>
